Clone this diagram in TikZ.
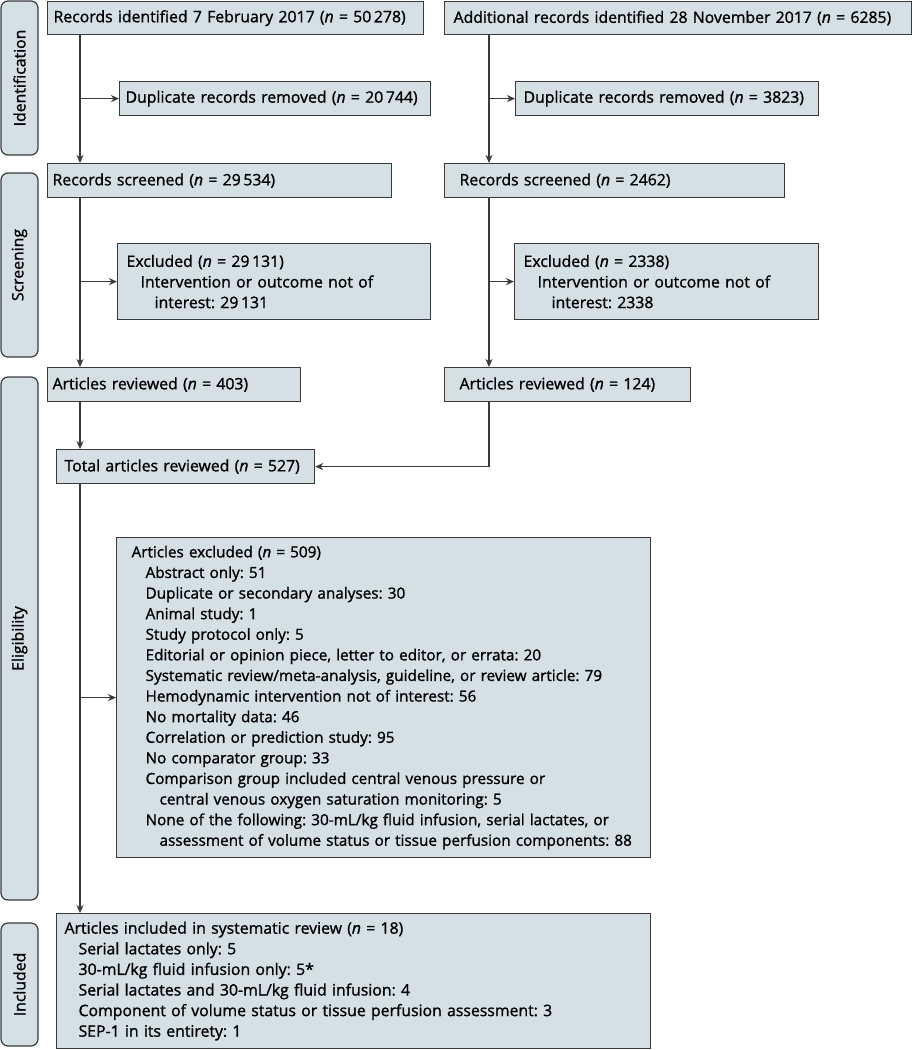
\documentclass[tikz,border=0pt]{standalone}
\usepackage{fontspec}
\setmainfont{Open Sans}[FakeBold=1.2]
\usetikzlibrary{arrows.meta,calc}
\definecolor{boxfill}{RGB}{213,224,228}
\definecolor{linegray}{RGB}{58,58,58}
\def\nn{(\textit{n}~=~}
\def\ind{\hspace*{14pt}}
\frenchspacing

\begin{document}
\begin{tikzpicture}[x=1pt,y=-1pt,
    box/.style={draw=linegray, line width=1.2pt, fill=boxfill, anchor=north west,
      align=left, inner xsep=6pt, inner ysep=0pt, font=\fontsize{15.8}{20.6}\selectfont},
    stage/.style={draw=linegray, line width=1.2pt, fill=boxfill, rounded corners=7pt,
      rotate=90, minimum height=37pt, inner sep=0pt, font=\fontsize{15.8}{19}\selectfont},
    arr/.style={draw=linegray, line width=1.2pt, -{Stealth[length=8pt,width=7pt,inset=2.5pt]}}]
			%%%%% START %%%%%
			\useasboundingbox (0,0) rectangle (912,1050);
			
			\coordinate (colL) at (80,0);
			\coordinate (colR) at (489,0);
			
			% stages
			\node[stage, minimum width=154pt] (sId) at (19.5,78) {Identification};
			\node[stage, minimum width=184pt] (sScr) at (19.5,265) {Screening};
			\node[stage, minimum width=523pt] (sEl) at (19.5,638.5) {Eligibility};
			\node[stage, minimum width=123pt] (sInc) at (19.5,984.5) {Included};
			
			% identification
			\node[box, text width=364pt, minimum height=33pt] (id1) at (47,1) {Records identified 7 February 2017 \nn50\,278)};
			\node[box, inner xsep=9pt, text width=449pt, minimum height=33pt] (id2) at (444,1) {Additional records identified 28 November 2017 \nn6285)};
			\node[box, text width=299pt, minimum height=34pt] (dup1) at (119,81) {Duplicate records removed \nn20\,744)};
			\node[box, inner xsep=8pt, text width=287pt, minimum height=34pt] (dup2) at (515,81) {Duplicate records removed \nn3823)};
			
			% screening
			\node[box, inner xsep=5pt, text width=334pt, minimum height=34pt] (scr1) at (47,163) {Records screened \nn29\,534)};
			\node[box, inner xsep=15pt, text width=310pt, minimum height=34pt] (scr2) at (444,163) {Records screened \nn2462)};
			\node[box, inner xsep=9pt, text width=295pt, minimum height=76pt] (exc1) at (117,243) {Excluded \nn29\,131)\\
			  \ind Intervention or outcome not of\\
			  \ind\ind interest: 29\,131};
			\node[box, inner xsep=9pt, text width=286pt, minimum height=76pt] (exc2) at (514,243) {Excluded \nn2338)\\
			  \ind Intervention or outcome not of\\
			  \ind\ind interest: 2338};
			
			% eligibility
			\node[box, inner xsep=5pt, text width=243pt, minimum height=34pt] (rev1) at (47,367) {Articles reviewed \nn403)};
			\node[box, inner xsep=15pt, text width=216pt, minimum height=34pt] (rev2) at (444,367) {Articles reviewed \nn124)};
			\node[box, inner xsep=8pt, text width=242pt, minimum height=34pt] (tot) at (56,449) {Total articles reviewed \nn527)};
			\node[box, inner xsep=4pt, text width=526pt, minimum height=320pt,
			  font=\fontsize{15.3}{20.6}\selectfont] (excl) at (116,537) {\hspace*{11pt}Articles excluded \nn509)\\
			  \hspace*{11pt}\ind Abstract only: 51\\
			  \hspace*{11pt}\ind Duplicate or secondary analyses: 30\\
			  \hspace*{11pt}\ind Animal study: 1\\
			  \hspace*{11pt}\ind Study protocol only: 5\\
			  \hspace*{11pt}\ind Editorial or opinion piece, letter to editor, or errata: 20\\
			  \hspace*{11pt}\ind Systematic review/meta-analysis, guideline, or review article: 79\\
			  \hspace*{11pt}\ind Hemodynamic intervention not of interest: 56\\
			  \hspace*{11pt}\ind No mortality data: 46\\
			  \hspace*{11pt}\ind Correlation or prediction study: 95\\
			  \hspace*{11pt}\ind No comparator group: 33\\
			  \hspace*{11pt}\ind Comparison group included central venous pressure or\\
			  \hspace*{11pt}\ind\ind central venous oxygen saturation monitoring: 5\\
			  \hspace*{11pt}\ind None of the following: 30-mL/kg fluid infusion, serial lactates, or\\
			  \hspace*{11pt}\ind\ind assessment of volume status or tissue perfusion components: 88};
			
			% included
			\node[box, inner xsep=8pt, text width=578pt, minimum height=135pt] (incl) at (56,913) {Articles included in systematic review \nn18)\\
			  \ind Serial lactates only: 5\\
			  \ind 30-mL/kg fluid infusion only: 5*\\
			  \ind Serial lactates and 30-mL/kg fluid infusion: 4\\
			  \ind Component of volume status or tissue perfusion assessment: 3\\
			  \ind SEP-1 in its entirety: 1};
			
			% connectors
			\draw[arr] (id1.south -| colL) -- (scr1.north -| colL);
			\draw[arr] (dup1.west -| colL) -- (dup1.west);
			\draw[arr] (id2.south -| colR) -- (scr2.north -| colR);
			\draw[arr] (dup2.west -| colR) -- (dup2.west);
			
			\draw[arr] (scr1.south -| colL) -- (rev1.north -| colL);
			\draw[arr] (exc1.west -| colL) -- (exc1.west);
			\draw[arr] (scr2.south -| colR) -- (rev2.north -| colR);
			\draw[arr] (exc2.west -| colR) -- (exc2.west);
			
			\draw[arr] (rev1.south -| colL) -- (tot.north -| colL);
			\draw[arr] (rev2.south -| colR) |- (tot.east);
			\draw[arr] (tot.south -| colL) -- (incl.north -| colL);
			\draw[arr] (excl.west -| colL) -- (excl.west);
			%%%%% END %%%%%
\end{tikzpicture}
\end{document}
